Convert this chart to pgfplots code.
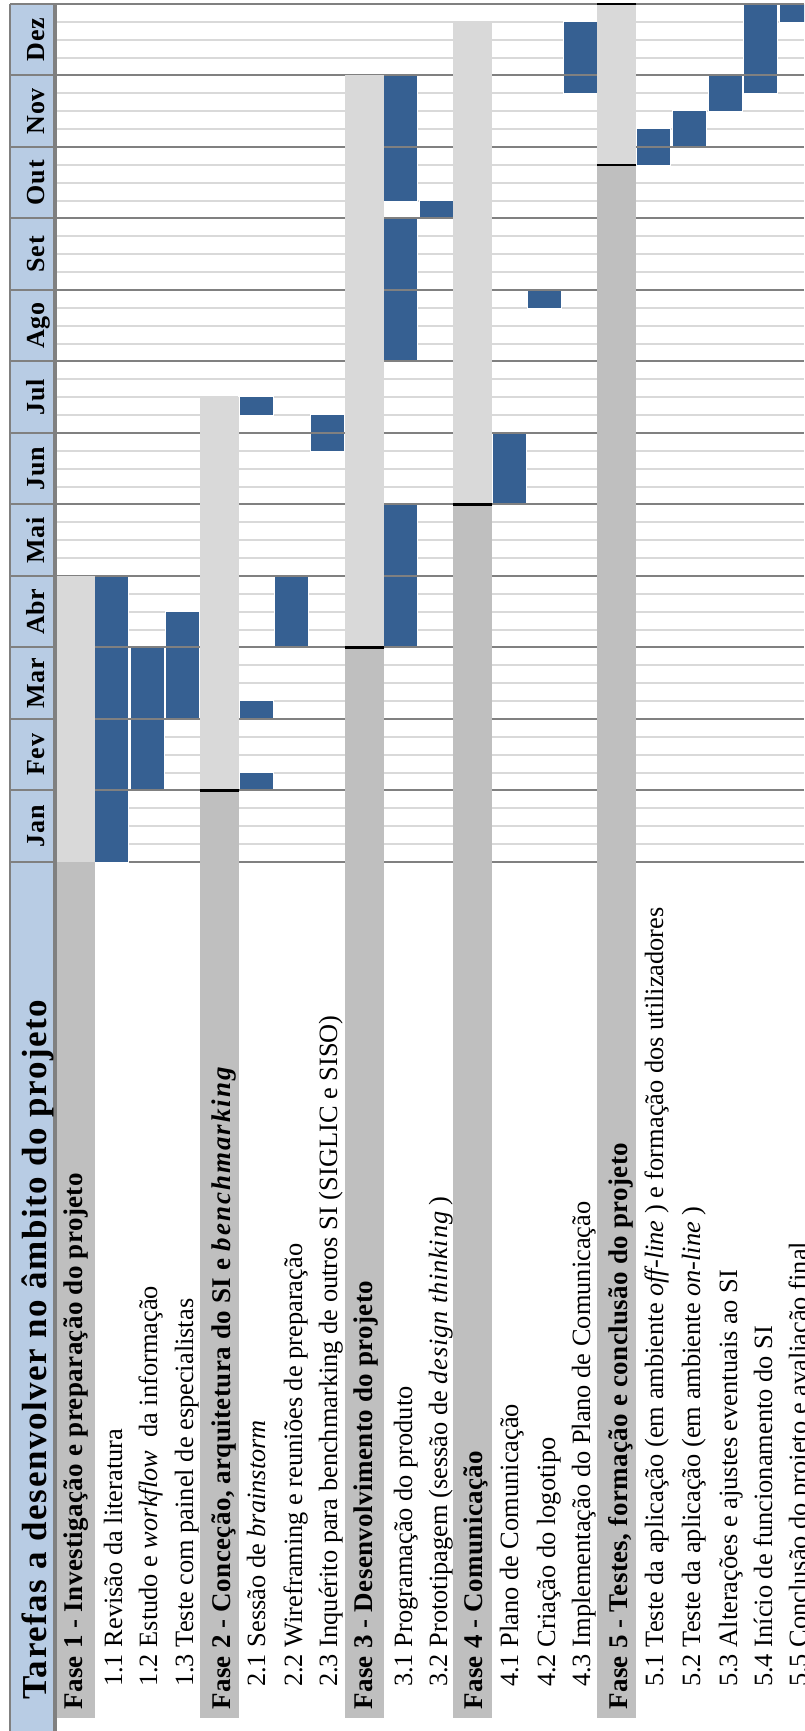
\documentclass[border=0pt]{standalone}
\usepackage{fontspec}
\setmainfont{Liberation Serif}
\usepackage{pgfplots}
\pgfplotsset{compat=1.18}
\usepackage{pgfplotstable}

\definecolor{barblue}{HTML}{366092}
\definecolor{hdrblue}{HTML}{B8CCE4}
\definecolor{phdark}{HTML}{BFBFBF}
\definecolor{phlight}{HTML}{D9D9D9}
\definecolor{gridgray}{HTML}{808080}
\definecolor{weekgray}{HTML}{D9D9D9}

% task segments: x centre (px), start month, duration (months)
\pgfplotstableread{
x s d
111.5 0 4
147 1 2
182.5 2 1.5
256 1 0.25
256 2 0.25
256 6.25 0.25
291.5 3 1
327.5 5.75 0.5
400 3 2
400 7 2
400 9.25 1.75
436.5 9 0.25
509.5 5 1
544.5 7.75 0.25
580.5 10.75 1
653.5 9.75 0.5
689.5 10 0.5
725.5 10.5 0.5
760.5 10.75 1.25
796.5 11.75 0.25
}\segs

% phase durations
\pgfplotstableread{
x s d
75 0 4
219.5 1 5.5
364.5 3 8
472.5 5 6.75
616.5 9.75 2.25
}\phl

% phase columns before start (incl. label area)
\pgfplotstableread{
x s d
75 -11.97 11.97
219.5 -11.97 12.97
364.5 -11.97 14.97
472.5 -11.97 16.97
616.5 -11.97 21.72
}\phd

\pgfplotstableread{
x y
219.5 1
364.5 3
472.5 5
616.5 9.75
616.5 12
}\phs

\newcommand\tfont{\fontsize{26.4}{30}\selectfont}
\newcommand\pfont{\fontsize{27}{30}\selectfont\bfseries\addfontfeature{LetterSpace=1.5}}
\newcommand\mfont{\fontsize{26}{30}\selectfont\bfseries\addfontfeature{LetterSpace=3}}
\newcommand\hfont{\fontsize{35}{40}\selectfont\bfseries\addfontfeature{LetterSpace=4.5}}
\newcommand\mlab[2]{\node[rotate=90, anchor=base, inner sep=0pt, font=\mfont] at (axis cs:44,#1) {#2};}
\newcommand\plab[2]{\node[rotate=90, anchor=base west, inner sep=0pt, font=\pfont] at (axis cs:#1,-11.86) {#2};}
\newcommand\tlab[2]{\node[rotate=90, anchor=base west, inner sep=0pt, font=\tfont] at (axis cs:#1,-11.54) {#2};}

\begin{document}
\begin{tikzpicture}
\begin{axis}[
  name=ax,
  scale only axis, width=804pt, height=1731pt,
  xmin=0, xmax=804, ymin=-12.154, ymax=12.056,
  axis lines=none, xtick=\empty, ytick=\empty,
  clip=true,
]
% header column
\fill[hdrblue] (axis cs:10,-12.2) rectangle (axis cs:55,12);
% week lines
\pgfplotsinvokeforeach{0,...,11}{
  \draw[weekgray, line width=1.8pt] (axis cs:57,#1+0.25) -- (axis cs:804,#1+0.25);
  \draw[weekgray, line width=1.8pt] (axis cs:57,#1+0.5) -- (axis cs:804,#1+0.5);
  \draw[weekgray, line width=1.8pt] (axis cs:57,#1+0.75) -- (axis cs:804,#1+0.75);
}
\draw[gridgray, line width=2pt] (axis cs:55,0) -- (axis cs:804,0);
% bars
\addplot[draw=none, mark=none, forget plot,
  error bars/.cd, y dir=plus, y explicit, error mark=none,
  error bar style={draw=white, line width=35.5pt}]
  table[x=x, y expr=\thisrow{s}-0.014, y error expr=\thisrow{d}+0.028] {\segs};
\addplot[draw=none, mark=none, forget plot,
  error bars/.cd, y dir=plus, y explicit, error mark=none,
  error bar style={draw=barblue, line width=33pt}]
  table[x=x, y=s, y error=d] {\segs};
% month lines
\pgfplotsinvokeforeach{1,...,11}{
  \draw[gridgray, line width=2pt] (axis cs:10,#1) -- (axis cs:804,#1);
}
\draw[gridgray, line width=2pt] (axis cs:10,0) -- (axis cs:55,0);
% phase columns
\addplot[draw=none, mark=none, forget plot,
  error bars/.cd, y dir=plus, y explicit, error mark=none,
  error bar style={draw=phdark, line width=39.5pt}]
  table[x=x, y=s, y error=d] {\phd};
\addplot[draw=none, mark=none, forget plot,
  error bars/.cd, y dir=plus, y explicit, error mark=none,
  error bar style={draw=phlight, line width=39.5pt}]
  table[x=x, y=s, y error=d] {\phl};
% borders
\draw[gridgray, line width=2pt] (axis cs:10,12) -- (axis cs:804,12);
\draw[gridgray, line width=1.6pt] (axis cs:10,12) -- (axis cs:10,-12.2);
\draw[gridgray, line width=3.5pt] (axis cs:55,12) -- (axis cs:55,-12.2);
\addplot[only marks, mark=-, mark size=19.75pt, forget plot,
  mark options={draw=black, line width=2.2pt}] table[x=x, y=y] {\phs};
% month labels
\mlab{0.5}{Jan}\mlab{1.5}{Fev}\mlab{2.5}{Mar}\mlab{3.5}{Abr}
\mlab{4.5}{Mai}\mlab{5.5}{Jun}\mlab{6.5}{Jul}\mlab{7.5}{Ago}
\mlab{8.5}{Set}\mlab{9.5}{Out}\mlab{10.5}{Nov}\mlab{11.5}{Dez}
% title
\node[rotate=90, anchor=base west, inner sep=0pt, font=\hfont] at (axis cs:46,-11.72) {Tarefas a desenvolver no âmbito do projeto};
% phase labels
\plab{82}{Fase 1 - Investigação e preparação do projeto}
\plab{230}{Fase 2 - Conceção, arquitetura do SI e {\itshape\addfontfeature{LetterSpace=7.5}benchmarking}}
\plab{372}{Fase 3 - Desenvolvimento do projeto}
\plab{482}{Fase 4 - Comunicação}
\plab{627}{Fase 5 - Testes, formação e conclusão do projeto}
% task labels
\tlab{122}{1.1 Revisão da literatura}
\tlab{157}{1.2 Estudo e \textit{workflow}\ \ da informação}
\tlab{193}{1.3 Teste com painel de especialistas}
\tlab{265}{2.1 Sessão de \textit{brainstorm}}
\tlab{302}{2.2 Wireframing e reuniões de preparação}
\tlab{337}{2.3 Inquérito para benchmarking de outros SI (SIGLIC e SISO)}
\tlab{412}{3.1 Programação do produto}
\tlab{447}{3.2 Prototipagem (sessão de {\itshape\addfontfeature{LetterSpace=3}design thinking} )}
\tlab{518}{4.1 Plano de Comunicação}
\tlab{555}{4.2 Criação do logotipo}
\tlab{590}{4.3 Implementação do Plano de Comunicação}
\tlab{663}{5.1 Teste da aplicação (em ambiente \textit{off-line} ) e formação dos utilizadores}
\tlab{700}{5.2 Teste da aplicação (em ambiente \textit{on-line} )}
\tlab{737}{5.3 Alterações e ajustes eventuais ao SI}
\tlab{772}{5.4 Início de funcionamento do SI}
\tlab{807}{5.5 Conclusão do projeto e avaliação final}
\end{axis}
\pgfresetboundingbox
\useasboundingbox (ax.south west) rectangle (ax.north east);
\end{tikzpicture}
\end{document}
